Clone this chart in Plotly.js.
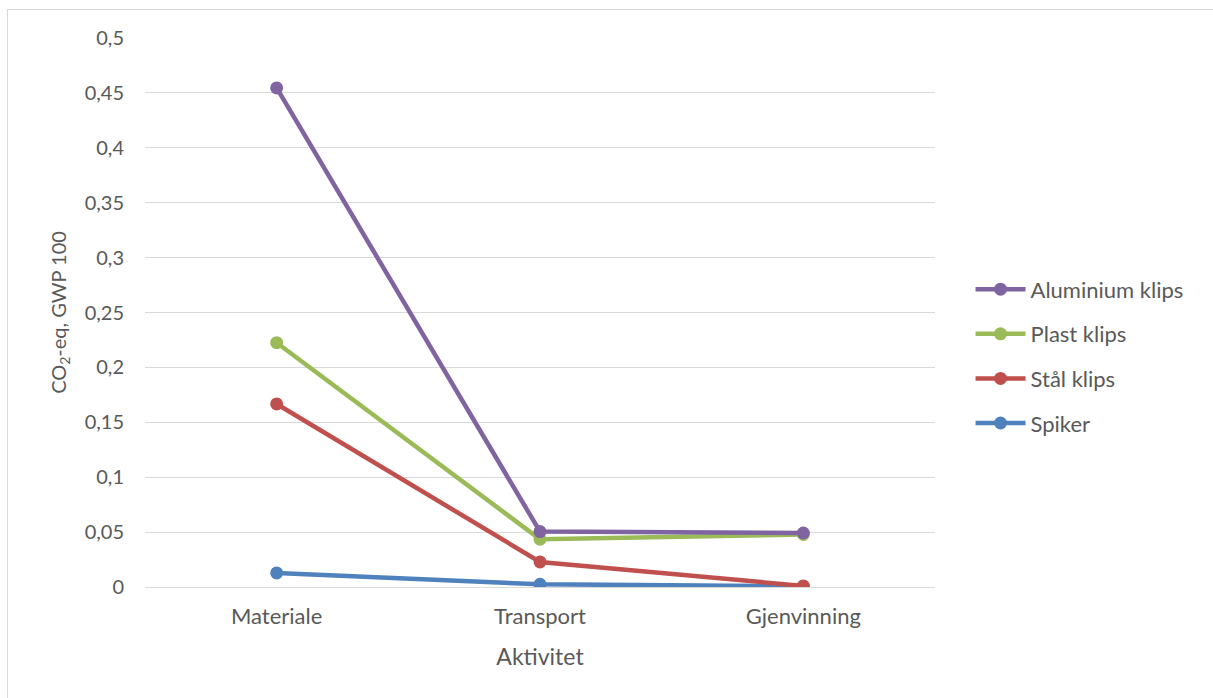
<!DOCTYPE html>
<html>
<head>
<meta charset="utf-8">
<script src="https://cdn.plot.ly/plotly-3.0.1.min.js"></script>
<style>
  html, body { margin: 0; padding: 0; background: #fff; }
  #chart { width: 1213px; height: 698px; }
  #frame { position: absolute; left: 7px; top: 9px; width: 1220px; height: 700px;
           border-top: 1px solid #d9d9d9; border-left: 1px solid #d9d9d9; pointer-events: none; }
</style>
</head>
<body>
<div id="chart"></div>
<div id="frame"></div>
<script>
const categories = ["Materiale", "Transport", "Gjenvinning"];
const seriesNames = ["Spiker", "Stål klips", "Plast klips", "Aluminium klips"];
const spiker = [0.0128, 0.0025, 0.0005];
const staalKlips = [0.1667, 0.0228, 0.001];
const plastKlips = [0.2225, 0.0435, 0.0478];
const aluminiumKlips = [0.4545, 0.0505, 0.0492];
const yTicks = [0, 0.05, 0.1, 0.15, 0.2, 0.25, 0.3, 0.35, 0.4, 0.45, 0.5];

const seriesValues = [spiker, staalKlips, plastKlips, aluminiumKlips];
const colors = ["#4F81BD", "#C0504D", "#9BBB59", "#8064A2"];

const traces = seriesNames.map((name, i) => ({
  type: "scatter",
  mode: "lines+markers",
  name: name,
  x: categories,
  y: seriesValues[i],
  legendgroup: "g" + i,
  legendrank: 10 - i,
  line: { color: colors[i], width: 4.5 },
  marker: { color: colors[i], size: 13 }
}));

const layout = {
  width: 1213,
  height: 698,
  paper_bgcolor: "#ffffff",
  plot_bgcolor: "#ffffff",
  separators: ", ",
  font: { family: "Lato, 'Noto Sans', sans-serif", size: 21, color: "#595959" },
  margin: { l: 145, r: 278, t: 38, b: 111 },
  showlegend: true,
  legend: {
    x: 1.045, xanchor: "left", y: 0.42, yanchor: "middle",
    traceorder: "grouped",
    tracegroupgap: 13,
    font: { size: 22, color: "#595959" },
    itemwidth: 50
  },
  xaxis: {
    type: "category",
    range: [-0.5, 2.5],
    showgrid: false,
    showline: true,
    linecolor: "#d9d9d9",
    linewidth: 1,
    ticks: "outside",
    ticklen: 10,
    tickcolor: "rgba(0,0,0,0)",
    tickfont: { size: 22 },
    zeroline: false,
    title: { text: "Aktivitet", font: { size: 23, color: "#595959" }, standoff: 20 }
  },
  yaxis: {
    range: [0, 0.5],
    tickvals: yTicks,
    showgrid: true,
    gridcolor: "#d9d9d9",
    gridwidth: 1,
    zeroline: false,
    showline: false,
    ticks: "outside",
    ticklen: 16,
    tickcolor: "rgba(0,0,0,0)",
    tickfont: { size: 20 },
    title: { text: "CO<sub>2</sub>-eq, GWP 100", font: { size: 20, color: "#595959" }, standoff: 12 }
  }
};

Plotly.newPlot("chart", traces, layout, { displayModeBar: false, staticPlot: true });
</script>
</body>
</html>
